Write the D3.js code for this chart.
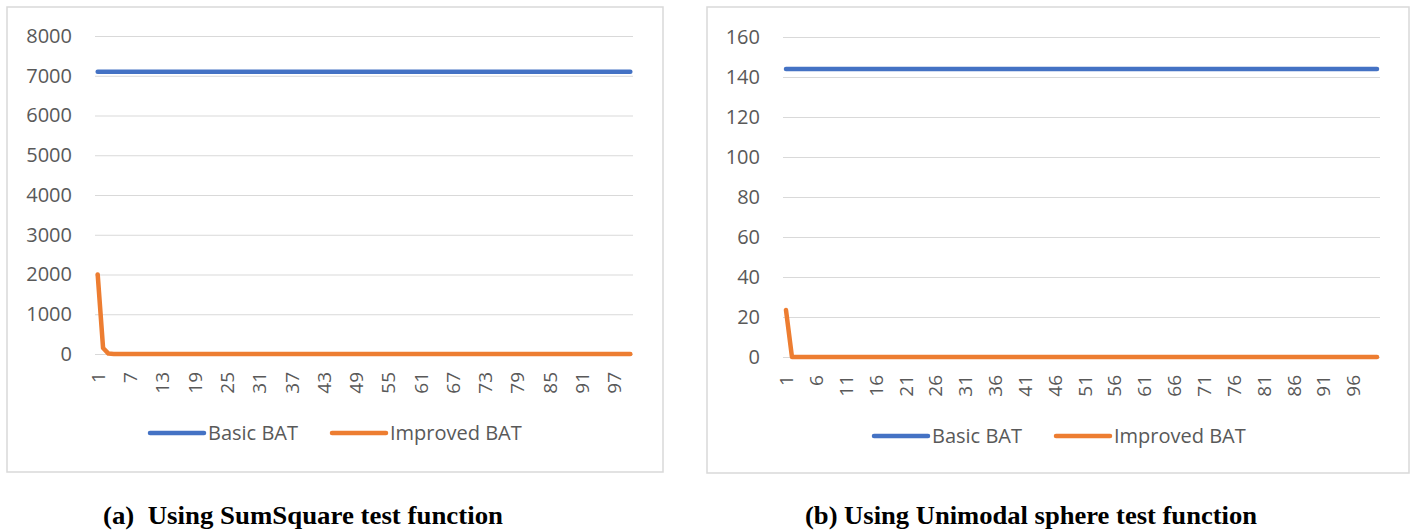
<!DOCTYPE html>
<html>
<head>
<meta charset="utf-8">
<script src="https://cdn.jsdelivr.net/npm/d3@7"></script>
<style>
  body { margin: 0; background: #fff; }
  svg { display: block; }
</style>
</head>
<body>
<script>
const width = 1415;
const height = 530;

// iteration numbers on the x axis
var iterations = d3.range(1, 101);

// series (100 iterations each)
var basicSumSquare = [
  7100, 7100, 7100, 7100, 7100, 7100, 7100, 7100, 7100, 7100,
  7100, 7100, 7100, 7100, 7100, 7100, 7100, 7100, 7100, 7100,
  7100, 7100, 7100, 7100, 7100, 7100, 7100, 7100, 7100, 7100,
  7100, 7100, 7100, 7100, 7100, 7100, 7100, 7100, 7100, 7100,
  7100, 7100, 7100, 7100, 7100, 7100, 7100, 7100, 7100, 7100,
  7100, 7100, 7100, 7100, 7100, 7100, 7100, 7100, 7100, 7100,
  7100, 7100, 7100, 7100, 7100, 7100, 7100, 7100, 7100, 7100,
  7100, 7100, 7100, 7100, 7100, 7100, 7100, 7100, 7100, 7100,
  7100, 7100, 7100, 7100, 7100, 7100, 7100, 7100, 7100, 7100,
  7100, 7100, 7100, 7100, 7100, 7100, 7100, 7100, 7100, 7100
];
var improvedSumSquare = [
  2000, 150, 10, 0, 0, 0, 0, 0, 0, 0,
  0, 0, 0, 0, 0, 0, 0, 0, 0, 0,
  0, 0, 0, 0, 0, 0, 0, 0, 0, 0,
  0, 0, 0, 0, 0, 0, 0, 0, 0, 0,
  0, 0, 0, 0, 0, 0, 0, 0, 0, 0,
  0, 0, 0, 0, 0, 0, 0, 0, 0, 0,
  0, 0, 0, 0, 0, 0, 0, 0, 0, 0,
  0, 0, 0, 0, 0, 0, 0, 0, 0, 0,
  0, 0, 0, 0, 0, 0, 0, 0, 0, 0,
  0, 0, 0, 0, 0, 0, 0, 0, 0, 0
];
var basicSphere = [
  144, 144, 144, 144, 144, 144, 144, 144, 144, 144,
  144, 144, 144, 144, 144, 144, 144, 144, 144, 144,
  144, 144, 144, 144, 144, 144, 144, 144, 144, 144,
  144, 144, 144, 144, 144, 144, 144, 144, 144, 144,
  144, 144, 144, 144, 144, 144, 144, 144, 144, 144,
  144, 144, 144, 144, 144, 144, 144, 144, 144, 144,
  144, 144, 144, 144, 144, 144, 144, 144, 144, 144,
  144, 144, 144, 144, 144, 144, 144, 144, 144, 144,
  144, 144, 144, 144, 144, 144, 144, 144, 144, 144,
  144, 144, 144, 144, 144, 144, 144, 144, 144, 144
];
var improvedSphere = [
  23.5, 0, 0, 0, 0, 0, 0, 0, 0, 0,
  0, 0, 0, 0, 0, 0, 0, 0, 0, 0,
  0, 0, 0, 0, 0, 0, 0, 0, 0, 0,
  0, 0, 0, 0, 0, 0, 0, 0, 0, 0,
  0, 0, 0, 0, 0, 0, 0, 0, 0, 0,
  0, 0, 0, 0, 0, 0, 0, 0, 0, 0,
  0, 0, 0, 0, 0, 0, 0, 0, 0, 0,
  0, 0, 0, 0, 0, 0, 0, 0, 0, 0,
  0, 0, 0, 0, 0, 0, 0, 0, 0, 0,
  0, 0, 0, 0, 0, 0, 0, 0, 0, 0
];

// tick labels
var yTicksSumSquare = [0, 1000, 2000, 3000, 4000, 5000, 6000, 7000, 8000];
var yTicksSphere = [0, 20, 40, 60, 80, 100, 120, 140, 160];
var xTicksSumSquare = [1, 7, 13, 19, 25, 31, 37, 43, 49, 55, 61, 67, 73, 79, 85, 91, 97];
var xTicksSphere = [1, 6, 11, 16, 21, 26, 31, 36, 41, 46, 51, 56, 61, 66, 71, 76, 81, 86, 91, 96];

var seriesNames = ["Basic BAT", "Improved BAT"];
var seriesColors = ["#4472C4", "#ED7D31"];

var captionA = "(a)  Using SumSquare test function";
var captionB = "(b) Using Unimodal sphere test function";

var svg = d3.select("body")
  .append("svg")
  .attr("width", width)
  .attr("height", height);

svg.append("rect").attr("width", width).attr("height", height).attr("fill", "#fff");

//Draws one Excel-style panel
function drawPanel(p) {
  var g = svg.append("g");

  //outer chart border
  g.append("rect")
    .attr("x", p.box[0]).attr("y", p.box[1])
    .attr("width", p.box[2]).attr("height", p.box[3])
    .attr("fill", "#fff")
    .attr("stroke", "#D9D9D9")
    .attr("stroke-width", 1.5);

  var x = d3.scalePoint()
    .domain(iterations)
    .range([p.left, p.right])
    .padding(0.5);

  var y = d3.scaleLinear()
    .domain([0, d3.max(p.yTicks)])
    .range([p.bottom, p.top]);

  //gridlines + y labels via axisLeft
  var yAxis = d3.axisLeft(y)
    .tickValues(p.yTicks)
    .tickFormat(d3.format("d"))
    .tickSize(-(p.right - p.left))
    .tickPadding(23);

  var ya = g.append("g")
    .attr("transform", "translate(" + p.left + ",0)")
    .call(yAxis);
  ya.select(".domain").remove();
  ya.selectAll(".tick line").attr("stroke", "#D9D9D9").attr("stroke-width", 1.2);
  ya.selectAll(".tick text")
    .attr("fill", "#595959")
    .style("font-family", "'Open Sans', sans-serif")
    .style("font-size", "20px");

  //rotated category labels
  var xAxis = d3.axisBottom(x)
    .tickValues(p.xTicks)
    .tickSize(0);

  var xa = g.append("g")
    .attr("transform", "translate(0," + p.bottom + ")")
    .call(xAxis);
  xa.select(".domain").remove();
  xa.selectAll(".tick text")
    .attr("fill", "#595959")
    .attr("transform", "rotate(-90)")
    .attr("x", -18)
    .attr("y", 0)
    .attr("dy", "0.35em")
    .attr("text-anchor", "end")
    .style("font-family", "'Open Sans', sans-serif")
    .style("font-size", "19px");

  var line = d3.line()
    .x(function(d, i) { return x(iterations[i]); })
    .y(function(d) { return y(d); });

  p.series.forEach(function(s, k) {
    g.append("path")
      .datum(s)
      .attr("d", line)
      .attr("fill", "none")
      .attr("stroke", seriesColors[k])
      .attr("stroke-width", 4.5)
      .attr("stroke-linecap", "round")
      .attr("stroke-linejoin", "round");
  });

  //legend
  p.legend.forEach(function(lx, k) {
    g.append("line")
      .attr("x1", lx).attr("x2", lx + 54)
      .attr("y1", p.legendY).attr("y2", p.legendY)
      .attr("stroke", seriesColors[k])
      .attr("stroke-width", 4.5)
      .attr("stroke-linecap", "round");
    g.append("text")
      .attr("x", lx + 58)
      .attr("y", p.legendY)
      .attr("dy", "0.35em")
      .attr("fill", "#595959")
      .style("font-family", "'Open Sans', sans-serif")
      .style("font-size", "20px")
      .text(seriesNames[k]);
  });

  //caption under the panel
  svg.append("text")
    .attr("x", p.captionX)
    .attr("y", 524)
    .attr("textLength", p.captionW)
    .attr("lengthAdjust", "spacingAndGlyphs")
    .style("white-space", "pre")
    .style("font-family", "'Liberation Serif', 'Times New Roman', serif")
    .style("font-weight", "bold")
    .style("font-size", "26px")
    .attr("fill", "#000")
    .text(p.caption);
}

drawPanel({
  box: [7, 7, 656, 465],
  left: 95, right: 633, top: 36, bottom: 354,
  yTicks: yTicksSumSquare,
  xTicks: xTicksSumSquare,
  series: [basicSumSquare, improvedSumSquare],
  legend: [150, 332],
  legendY: 433,
  caption: captionA,
  captionX: 103,
  captionW: 400
});

drawPanel({
  box: [707, 7, 702, 466],
  left: 783, right: 1380, top: 37, bottom: 357,
  yTicks: yTicksSphere,
  xTicks: xTicksSphere,
  series: [basicSphere, improvedSphere],
  legend: [874, 1056],
  legendY: 436,
  caption: captionB,
  captionX: 805,
  captionW: 452
});
</script>
</body>
</html>
